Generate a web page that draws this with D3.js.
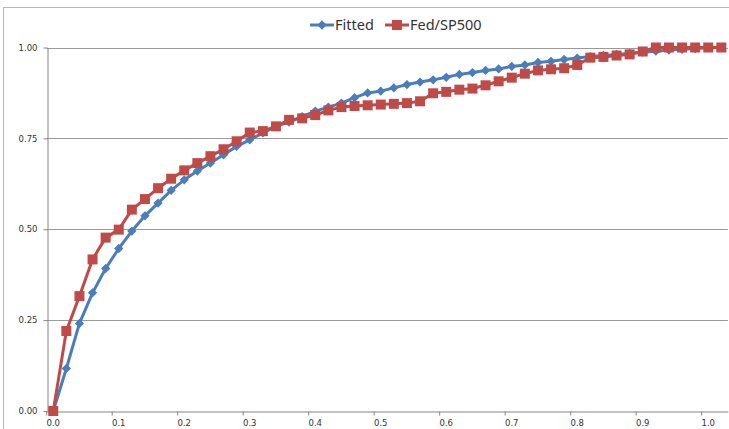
<!DOCTYPE html>
<html>
<head>
<meta charset="utf-8">
<script src="https://cdn.jsdelivr.net/npm/d3@7"></script>
<style>
  body { margin: 0; background: #fff; }
  .tick text { font-family: 'DejaVu Sans', sans-serif; font-size: 8.5px; fill: #333; }
  .legend text { font-family: 'Noto Sans', sans-serif; font-size: 14.5px; fill: #333; }
</style>
</head>
<body>
<div id="chart"></div>
<script>
// categories on the x axis (category axis, every 5th one is labelled)
var categories = ["0.00","0.02","0.04","0.06","0.08","0.10","0.12","0.14","0.16","0.18",
                  "0.20","0.22","0.24","0.26","0.28","0.30","0.32","0.34","0.36","0.38",
                  "0.40","0.42","0.44","0.46","0.48","0.50","0.52","0.54","0.56","0.58",
                  "0.60","0.62","0.64","0.66","0.68","0.70","0.72","0.74","0.76","0.78",
                  "0.80","0.82","0.84","0.86","0.88","0.90","0.92","0.94","0.96","0.98",
                  "1.00","1.02"];
var xTickLabels = ["0.0","0.1","0.2","0.3","0.4","0.5","0.6","0.7","0.8","0.9","1.0"];
var yTicks = [0, 0.25, 0.5, 0.75, 1];

var fitted = [0, 0.117, 0.241, 0.325, 0.392, 0.447, 0.495, 0.537, 0.572, 0.607,
              0.636, 0.660, 0.682, 0.705, 0.728, 0.746, 0.765, 0.783, 0.795, 0.810,
              0.825, 0.836, 0.847, 0.862, 0.875, 0.880, 0.889, 0.898, 0.905, 0.911,
              0.918, 0.926, 0.931, 0.937, 0.941, 0.948, 0.952, 0.959, 0.962, 0.967,
              0.971, 0.975, 0.978, 0.981, 0.984, 0.987, 0.990, 0.993, 0.995, 0.997,
              0.999, 1.0];
var fedSP500 = [0, 0.220, 0.316, 0.417, 0.477, 0.499, 0.554, 0.583, 0.613, 0.639,
                0.662, 0.682, 0.701, 0.720, 0.742, 0.766, 0.770, 0.783, 0.801, 0.805,
                0.814, 0.827, 0.836, 0.839, 0.841, 0.843, 0.845, 0.847, 0.852, 0.874,
                0.878, 0.884, 0.887, 0.896, 0.907, 0.917, 0.928, 0.937, 0.940, 0.943,
                0.952, 0.972, 0.974, 0.978, 0.981, 0.989, 1.0, 1.0, 1.0, 1.0,
                1.0, 1.0];

var W = 729, H = 429;
var plot = { left: 46.7, right: 727.9, top: 47.5, bottom: 411 };

var svg = d3.select("#chart").append("svg")
    .attr("width", W).attr("height", H);

// chart border (cut off at right / bottom like the original)
svg.append("rect")
    .attr("x", 3.5).attr("y", 7.5).attr("width", 900).attr("height", 600)
    .attr("fill", "none").attr("stroke", "#b8b8b8").attr("stroke-width", 1);

var x = d3.scaleBand().domain(categories).range([plot.left, plot.right]);
var bw = x.bandwidth();
var cx = function (c) { return x(c) + bw / 2; };
var y = d3.scaleLinear().domain([0, 1]).range([plot.bottom, plot.top]);

// gridlines
svg.append("g").selectAll("line")
    .data(yTicks.filter(function (d) { return d > 0; }))
    .enter().append("line")
    .attr("x1", plot.left).attr("x2", plot.right)
    .attr("y1", function (d) { return Math.round(y(d)) + 0.5; })
    .attr("y2", function (d) { return Math.round(y(d)) + 0.5; })
    .attr("stroke", "#9a9a9a").attr("stroke-width", 1);

// y axis
var yAxis = d3.axisLeft(y).tickValues(yTicks).tickFormat(d3.format(".2f"))
    .tickSize(4).tickSizeOuter(0).tickPadding(6);
var gy = svg.append("g")
    .attr("transform", "translate(" + (Math.round(plot.left) + 0.5) + ",0)")
    .call(yAxis);
gy.select(".domain").attr("stroke", "#868686");
gy.selectAll(".tick line").attr("stroke", "#868686");

// x axis
var labelled = xTickLabels.map(function (d, i) { return categories[i * 5]; });
var xAxis = d3.axisBottom(x).tickValues(labelled)
    .tickFormat(function (d, i) { return xTickLabels[i]; })
    .tickSize(4).tickSizeOuter(0).tickPadding(4);
var gx = svg.append("g")
    .attr("transform", "translate(0," + (Math.round(plot.bottom) + 0.5) + ")")
    .call(xAxis);
gx.select(".domain").attr("stroke", "#868686");
gx.selectAll(".tick line").attr("stroke", "#868686")
    .attr("x1", -bw / 2).attr("x2", -bw / 2);

var blue = "#4a7ebb", red = "#be4b48";

function series(values, color, marker) {
    var pts = categories.map(function (c, i) { return [cx(c), y(values[i])]; });
    svg.append("path")
        .attr("d", d3.line()(pts))
        .attr("fill", "none").attr("stroke", color)
        .attr("stroke-width", 3).attr("stroke-linejoin", "round");
    svg.append("g").selectAll("path")
        .data(pts).enter().append("path")
        .attr("transform", function (d) { return "translate(" + d[0] + "," + d[1] + ")"; })
        .attr("d", marker)
        .attr("fill", color);
}

var diamond = d3.symbol().type(d3.symbolDiamond2).size(55)();
var square = "M-5,-5H5V5H-5Z";

series(fitted, blue, diamond);
series(fedSP500, red, square);

// legend
var lg = svg.append("g").attr("class", "legend");
lg.append("line").attr("x1", 310).attr("x2", 334).attr("y1", 25).attr("y2", 25)
    .attr("stroke", blue).attr("stroke-width", 3);
lg.append("path").attr("transform", "translate(322,25)").attr("d", diamond).attr("fill", blue);
lg.append("text").attr("x", 335).attr("y", 30).text("Fitted");
lg.append("line").attr("x1", 385).attr("x2", 409).attr("y1", 25).attr("y2", 25)
    .attr("stroke", red).attr("stroke-width", 3);
lg.append("path").attr("transform", "translate(397,25)").attr("d", square).attr("fill", red);
lg.append("text").attr("x", 410).attr("y", 30).text("Fed/SP500");
</script>
</body>
</html>
